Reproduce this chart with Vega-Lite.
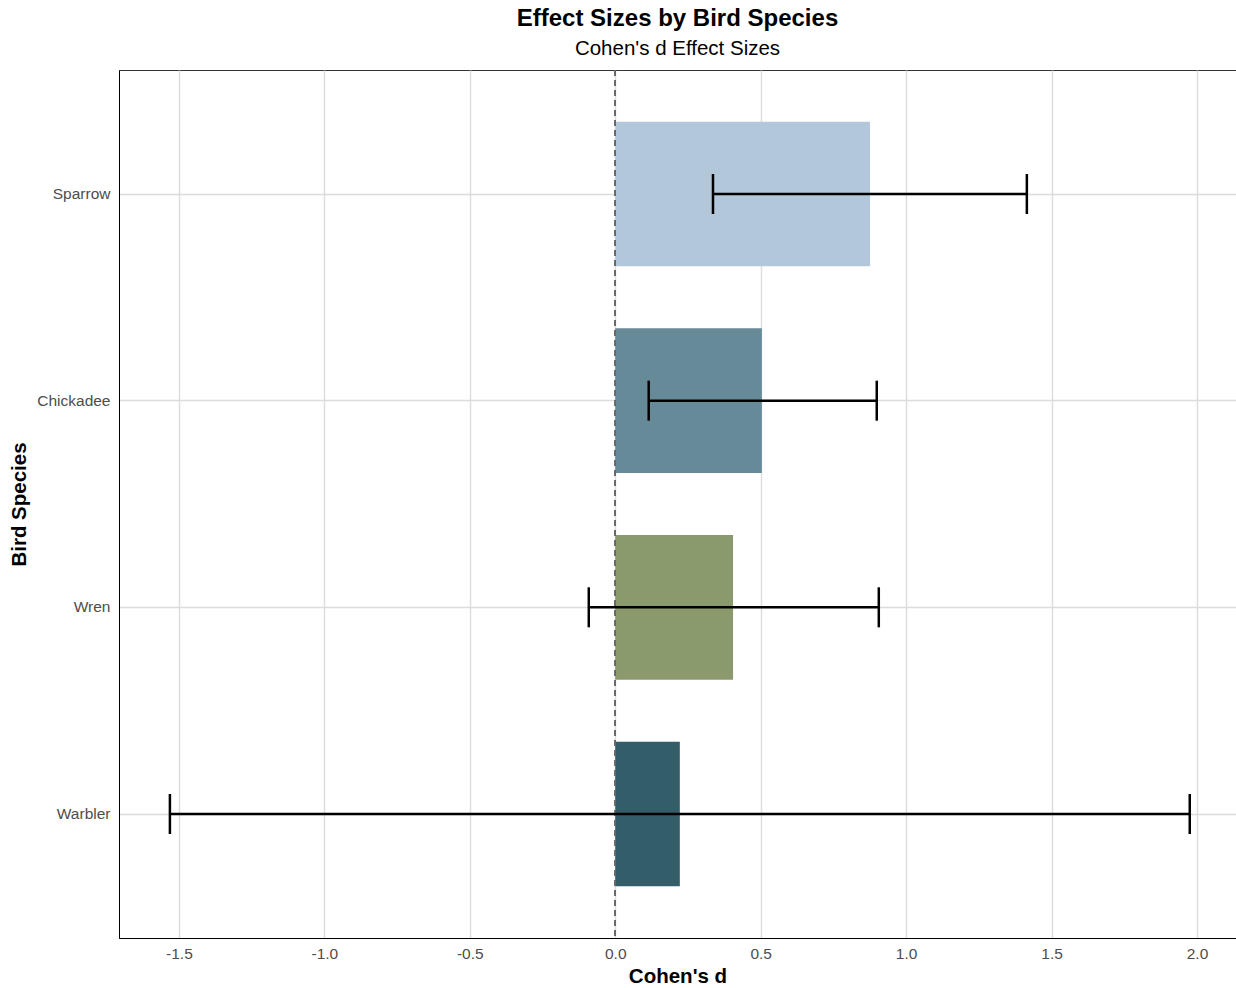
{
  "$schema": "https://vega.github.io/schema/vega-lite/v6.json",
  "autosize": {"type": "none"},
  "width": 1117,
  "height": 868,
  "padding": {"left": 119, "top": 70, "right": 0, "bottom": 50},
  "background": "white",
  "config": {
    "font": "Liberation Sans",
    "view": {"stroke": "#333333", "strokeWidth": 1},
    "axis": {
      "labelFont": "Liberation Sans",
      "titleFont": "Liberation Sans",
      "labelColor": "#4d4d4d",
      "labelFontSize": 15.5,
      "titleFontSize": 20.5,
      "titleFontWeight": "bold",
      "titleColor": "black",
      "gridColor": "#dcdcdc",
      "gridWidth": 1.4,
      "domainColor": "black",
      "domainWidth": 1,
      "ticks": false
    }
  },
  "title": {
    "text": "Effect Sizes by Bird Species",
    "subtitle": "Cohen's d Effect Sizes",
    "anchor": "middle",
    "frame": "group",
    "font": "Liberation Sans",
    "fontSize": 24,
    "fontWeight": "bold",
    "color": "black",
    "subtitleFont": "Liberation Sans",
    "subtitleFontSize": 20.5,
    "subtitleColor": "black",
    "subtitlePadding": 8,
    "offset": 10
  },
  "data": {
    "values": [
      {"species": "Sparrow", "d": 0.876, "lower": 0.336, "upper": 1.415},
      {"species": "Chickadee", "d": 0.504, "lower": 0.115, "upper": 0.899},
      {"species": "Wren", "d": 0.405, "lower": -0.091, "upper": 0.906},
      {"species": "Warbler", "d": 0.222, "lower": -1.531, "upper": 1.975}
    ]
  },
  "encoding": {
    "y": {
      "field": "species",
      "type": "nominal",
      "sort": ["Sparrow", "Chickadee", "Wren", "Warbler"],
      "scale": {"paddingInner": 0.3, "paddingOuter": 0.25},
      "axis": {
        "title": "Bird Species",
        "bandPosition": 0.5,
        "labelPadding": 9,
        "titlePadding": 7,
        "grid": true
      }
    }
  },
  "layer": [
    {
      "mark": {"type": "bar"},
      "encoding": {
        "x": {
          "field": "d",
          "type": "quantitative",
          "scale": {"domain": [-1.706, 2.134], "nice": false, "zero": false},
          "axis": {
            "title": "Cohen's d",
            "values": [-1.5, -1, -0.5, 0, 0.5, 1, 1.5, 2],
            "labelExpr": "replace(format(datum.value, '.1f'), '\u2212', '-')",
            "labelPadding": 8,
            "titlePadding": 5,
            "grid": true
          }
        },
        "x2": {"datum": 0},
        "color": {
          "field": "species",
          "type": "nominal",
          "scale": {
            "domain": ["Sparrow", "Chickadee", "Wren", "Warbler"],
            "range": ["#b2c7da", "#678a99", "#8a9a6c", "#335d69"]
          },
          "legend": null
        }
      }
    },
    {
      "mark": {"type": "rule", "color": "#666666", "strokeDash": [6, 4], "strokeWidth": 1.5},
      "encoding": {"x": {"datum": 0}, "y": null}
    },
    {
      "mark": {"type": "rule", "color": "black", "strokeWidth": 2.5},
      "encoding": {
        "x": {"field": "lower", "type": "quantitative"},
        "x2": {"field": "upper"}
      }
    },
    {
      "mark": {"type": "tick", "color": "black", "opacity": 1, "thickness": 2.5, "size": 40, "orient": "vertical"},
      "encoding": {"x": {"field": "lower", "type": "quantitative"}}
    },
    {
      "mark": {"type": "tick", "color": "black", "opacity": 1, "thickness": 2.5, "size": 40, "orient": "vertical"},
      "encoding": {"x": {"field": "upper", "type": "quantitative"}}
    }
  ]
}
